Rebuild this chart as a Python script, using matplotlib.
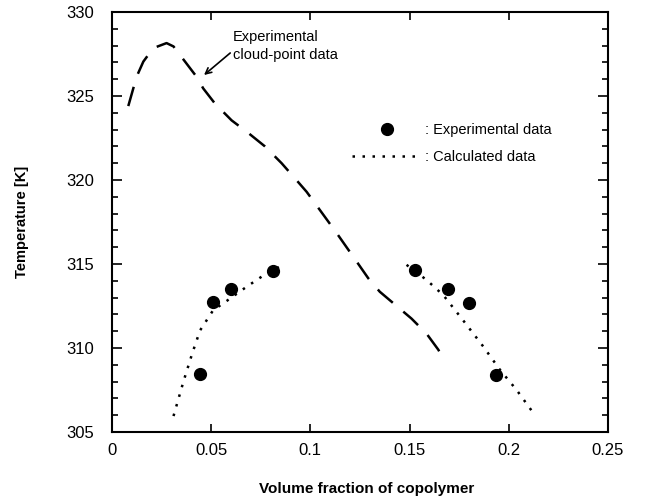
"""
Cloud-point curve vs calculated data for copolymer solution
"""

import matplotlib
matplotlib.use('Agg')
import matplotlib.pyplot as plt
from matplotlib.lines import Line2D
from matplotlib.ticker import MultipleLocator, FixedLocator, FuncFormatter

plt.rcParams['font.family'] = ['Liberation Sans', 'DejaVu Sans']

# Experimental cloud-point curve (dashed)
cloud_x = [0.0082, 0.0124, 0.0158, 0.0208, 0.0275, 0.031, 0.0368, 0.0426, 0.046,
           0.0519, 0.0603, 0.0687, 0.0771, 0.0855, 0.0922, 0.0981, 0.1055, 0.1132,
           0.1233, 0.1292, 0.135, 0.1435, 0.151, 0.1586, 0.1645, 0.1664]
cloud_y = [324.4, 326.15, 327.05, 327.85, 328.15, 327.95, 327.05, 326.15, 325.45,
           324.55, 323.55, 322.8, 322.0, 321.0, 320.1, 319.3, 318.1, 316.85,
           315.15, 314.15, 313.35, 312.5, 311.75, 310.85, 309.9, 309.5]

# Experimental data (dots)
exp_x = [0.0444, 0.051, 0.060, 0.0813, 0.1527, 0.1695, 0.180, 0.1938]
exp_y = [308.45, 312.75, 313.5, 314.6, 314.65, 313.5, 312.7, 308.4]

# Calculated data, left branch (dotted)
calc_left_x = [0.031, 0.036, 0.0405, 0.0444, 0.051, 0.0578, 0.0679, 0.078, 0.0872]
calc_left_y = [305.95, 308.0, 309.7, 311.05, 312.25, 312.8, 313.65, 314.45, 315.0]

# Calculated data, right branch (dotted)
calc_right_x = [0.1485, 0.1586, 0.167, 0.177, 0.1871, 0.1956, 0.204, 0.212]
calc_right_y = [314.95, 314.05, 313.15, 311.65, 310.1, 308.7, 307.5, 306.2]

x_ticks = [0, 0.05, 0.1, 0.15, 0.2, 0.25]
y_ticks = [305, 310, 315, 320, 325, 330]

fig = plt.figure(figsize=(6.46, 4.96), dpi=100)
ax = fig.add_axes([0.1734, 0.129, 0.7676, 0.8468])

ax.plot(cloud_x, cloud_y, color='black', linewidth=1.8, linestyle=(0, (8, 5.5)))
ax.plot(calc_left_x, calc_left_y, color='black', linewidth=1.8, linestyle=(0, (1, 3)))
ax.plot(calc_right_x, calc_right_y, color='black', linewidth=1.8, linestyle=(0, (1, 3)))
ax.plot(exp_x, exp_y, 'o', color='black', markersize=8.5)

ax.set_xlim(0, 0.25)
ax.set_ylim(305, 330)
ax.xaxis.set_major_locator(FixedLocator(x_ticks))
ax.xaxis.set_major_formatter(FuncFormatter(lambda v, p: '%g' % v))
ax.yaxis.set_major_locator(FixedLocator(y_ticks))
ax.yaxis.set_minor_locator(MultipleLocator(1))

for s in ax.spines.values():
    s.set_linewidth(1.5)

ax.tick_params(axis='both', which='both', direction='in', top=True, right=True,
               width=1.2, labelsize=12)
ax.tick_params(axis='y', which='major', length=7, pad=13)
ax.tick_params(axis='y', which='minor', length=4)
ax.tick_params(axis='x', which='major', length=6, pad=8)

ax.set_xlabel('Volume fraction of copolymer', fontsize=11, fontweight='bold')
ax.set_ylabel('Temperature [K]', fontsize=10.5, fontweight='bold')
ax.xaxis.set_label_coords(0.514, -0.119)
ax.yaxis.set_label_coords(-0.167, 0.5)

# Annotation for cloud-point curve
ax.annotate('Experimental\ncloud-point data', xy=(0.0464, 326.25), xytext=(0.061, 328.9),
            fontsize=10.5, ha='left', va='top', linespacing=1.3,
            arrowprops=dict(arrowstyle='->', color='black', lw=1.2,
                            shrinkA=0, shrinkB=0,
                            relpos=(-0.02, 0.3)))

handles = [Line2D([], [], marker='o', color='black', linestyle='none', markersize=8.5),
           Line2D([], [], color='black', linewidth=1.8, linestyle=(0, (1, 3)))]
labels = [': Experimental data', ': Calculated data']
ax.legend(handles, labels, loc='upper left', bbox_to_anchor=(0.484, 0.735),
          frameon=False, fontsize=10.5, handlelength=4.8, handletextpad=0.2,
          labelspacing=0.9, borderpad=0, borderaxespad=0)

plt.savefig('out.png', dpi=100, facecolor='white')
plt.close()
